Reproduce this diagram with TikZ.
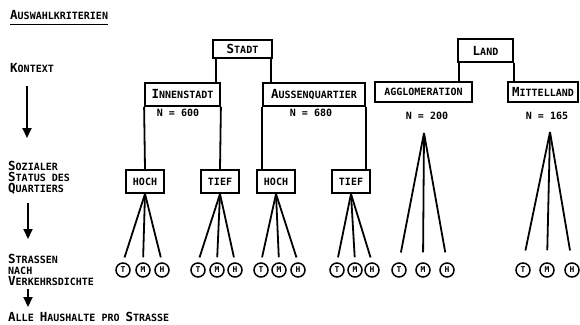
\documentclass[tikz,border=0pt]{standalone}
\usepackage{fontspec}
\setmonofont{DejaVu Sans Mono}
\usetikzlibrary{arrows.meta}
\newcommand\BigL[1]{{\fontsize{12.5}{11}\selectfont #1}}
\tikzset{
 lbl/.style={font=\ttfamily\bfseries\fontsize{10}{11}\selectfont, inner sep=0pt},
 box/.style={draw, line width=1.8pt, font=\ttfamily\bfseries\fontsize{10}{11}\selectfont, inner sep=0pt},
 statusbox/.style={box, minimum width=38pt, minimum height=23pt},
 cnt/.style={font=\ttfamily\bfseries\fontsize{10}{11}\selectfont, inner sep=0pt},
 leaf/.style={draw, circle, line width=1.5pt, minimum size=14pt, inner sep=0pt, font=\ttfamily\bfseries\fontsize{8}{8}\selectfont},
 conn/.style={line width=1.8pt},
 fan/.style={line width=1.8pt, shorten >=5pt},
 downarrow/.style={line width=2pt, -{Triangle[width=9pt,length=10pt]}},
}
\begin{document}
\begin{tikzpicture}[x=1pt,y=-1pt]
\useasboundingbox (0,0) rectangle (580,324);
% left column
\node[lbl, anchor=west] (title) at (10,15.5) {\BigL{A}USWAHLKRITERIEN};
\draw[line width=1.2pt] ([yshift=-4.5pt]title.south west) -- ([yshift=-4.5pt]title.south east);
\node[lbl, anchor=west] (ctx) at (10,68) {\BigL{K}ONTEXT};
\node[lbl, anchor=north west, align=left] (soz) at (8,161) {\BigL{S}OZIALER\\\BigL{S}TATUS DES\\\BigL{Q}UARTIERS};
\node[lbl, anchor=north west, align=left] (str) at (8,254) {\BigL{S}TRASSEN\\NACH\\\BigL{V}ERKEHRSDICHTE};
\node[lbl, anchor=base west] (alle) at (8,321.5) {\BigL{A}LLE \BigL{H}AUSHALTE PRO \BigL{S}TRASSE};
\coordinate (ar1s) at (27,86);  \coordinate (ar1e) at (27,138);
\coordinate (ar2s) at (28,203); \coordinate (ar2e) at (28,239);
\coordinate (ar3s) at (28,289); \coordinate (ar3e) at (28,307);
\draw[downarrow] (ar1s) -- (ar1e);
\draw[downarrow] (ar2s) -- (ar2e);
\draw[downarrow] (ar3s) -- (ar3e);
% context boxes
\node[box, minimum width=59pt, minimum height=18pt] (stadt) at (242.5,49) {\BigL{S}TADT};
\node[box, minimum width=75pt, minimum height=23pt] (inn) at (182.5,94.5) {\BigL{I}NNENSTADT};
\node[box, minimum width=102pt, minimum height=23pt] (aus) at (314,94.5) {\BigL{A}USSENQUARTIER};
\node[box, minimum width=55pt, minimum height=23pt] (land) at (485.5,50.5) {\BigL{L}AND};
\node[box, minimum width=97pt, minimum height=20pt] (agg) at (423.5,92) {AGGLOMERATION};
\node[box, minimum width=70pt, minimum height=20pt] (mitt) at (543,92) {\BigL{M}ITTELLAND};
\draw[conn] ([xshift=4pt]stadt.south west) -- ([xshift=4pt]stadt.south west |- inn.north);
\draw[conn] ([xshift=-2pt]stadt.south east) -- ([xshift=-2pt]stadt.south east |- aus.north);
\draw[conn] ([xshift=2pt]land.south west) -- ([xshift=2pt]land.south west |- agg.north);
\draw[conn] (land.south east) -- (land.south east |- mitt.north);
% counts
\node[cnt] (n600) at (178,113) {N = 600};
\node[cnt] (n680) at (311,113) {N = 680};
\node[cnt] (n200) at (427,116) {N = 200};
\node[cnt] (n165) at (547,116) {N = 165};
% status boxes
\node[statusbox] (h1) at (145,181.5) {HOCH};
\node[statusbox] (t1) at (220,181.5) {TIEF};
\node[statusbox] (h2) at (276,181.5) {HOCH};
\node[statusbox] (t2) at (351,181.5) {TIEF};
\draw[conn] (inn.south west) -- (h1.north);
\draw[conn] (inn.south east) -- (t1.north);
\draw[conn] (aus.south west) -- (aus.south west |- h2.north);
\draw[conn] (aus.south east) -- (aus.south east |- t2.north);
% leaves
\foreach \n/\x/\l in {a1/123/T,a2/143/M,a3/162/H, b1/198/T,b2/217/M,b3/235/H,
  c1/261/T,c2/279/M,c3/298/H, d1/337/T,d2/355/M,d3/372/H,
  e1/399/T,e2/423/M,e3/447/H, f1/523/T,f2/547/M,f3/572/H}
  \node[leaf] (\n) at (\x,270) {\l};
\foreach \c in {a1,a2,a3} \draw[fan] (h1.south) -- (\c.north);
\foreach \c in {b1,b2,b3} \draw[fan] (t1.south) -- (\c.north);
\foreach \c in {c1,c2,c3} \draw[fan] (h2.south) -- (\c.north);
\foreach \c in {d1,d2,d3} \draw[fan] (t2.south) -- (\c.north);
\coordinate (aggtop) at (424,133);
\coordinate (mitttop) at (550,132);
\foreach \c in {e1,e2,e3} \draw[fan, shorten >=10pt] (aggtop) -- (\c.north);
\foreach \c in {f1,f2,f3} \draw[fan, shorten >=12pt] (mitttop) -- (\c.north);
\end{tikzpicture}
\end{document}
